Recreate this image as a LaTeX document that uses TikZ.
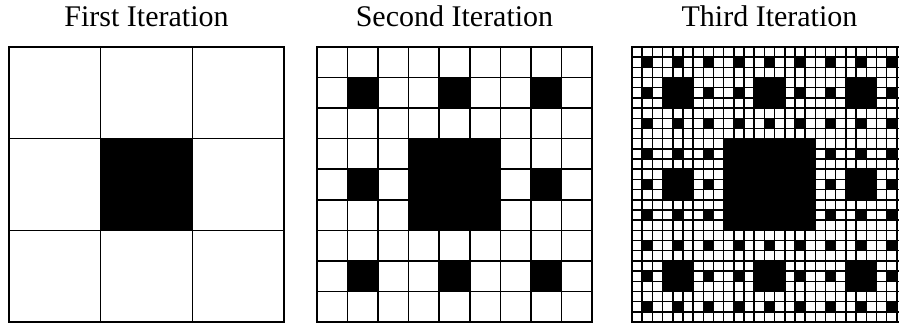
\documentclass[tikz,border=0pt]{standalone}
\usepackage{fontspec}
\setmainfont{Liberation Serif}
\begin{document}
\begin{tikzpicture}[x=1pt, y=1pt, line cap=rect, line join=miter,
  title/.style={anchor=base, font=\fontsize{30}{34}\selectfont, inner sep=0pt},
  cellgrid/.style={line width=1.5pt},
  border/.style={line width=1.8pt}]

  \useasboundingbox (0,0) rectangle (899,324);
  \clip (0,0) rectangle (899,324);

  % Parameters
  \def\L{275}    % side of each carpet
  \def\yB{2}     % bottom edge of the carpets
  \def\yT{297}   % baseline of the titles

  % ---- Carpets: left edge / iteration / title word ----
  \foreach \xo/\n/\txt in {9/1/First, 317/2/Second, 632/3/Third}{
    \begin{scope}[shift={(\xo,\yB)}]
      % take out the middle square of every block, level by level
      \foreach \k in {1,...,\n}{
        \pgfmathsetmacro{\m}{int(3^(\k-1))}   % blocks per side
        \pgfmathsetmacro{\b}{\L/\m}           % block side
        \foreach \i in {1,...,\m}{
          \foreach \j in {1,...,\m}{
            \fill ({(\i-1+1/3)*\b},{(\j-1+1/3)*\b}) rectangle ++({\b/3},{\b/3});
          }
        }
      }
      % ---- Cell grid and outline ----
      \pgfmathsetmacro{\c}{\L/3^\n}
      \draw[cellgrid, step=\c] (0,0) grid (\L,\L);
      \draw[border] (0,0) rectangle (\L,\L);
    \end{scope}
    \node[title] (t\n) at ({\xo+\L/2},\yT) {\txt{} Iteration};
  }

\end{tikzpicture}
\end{document}
